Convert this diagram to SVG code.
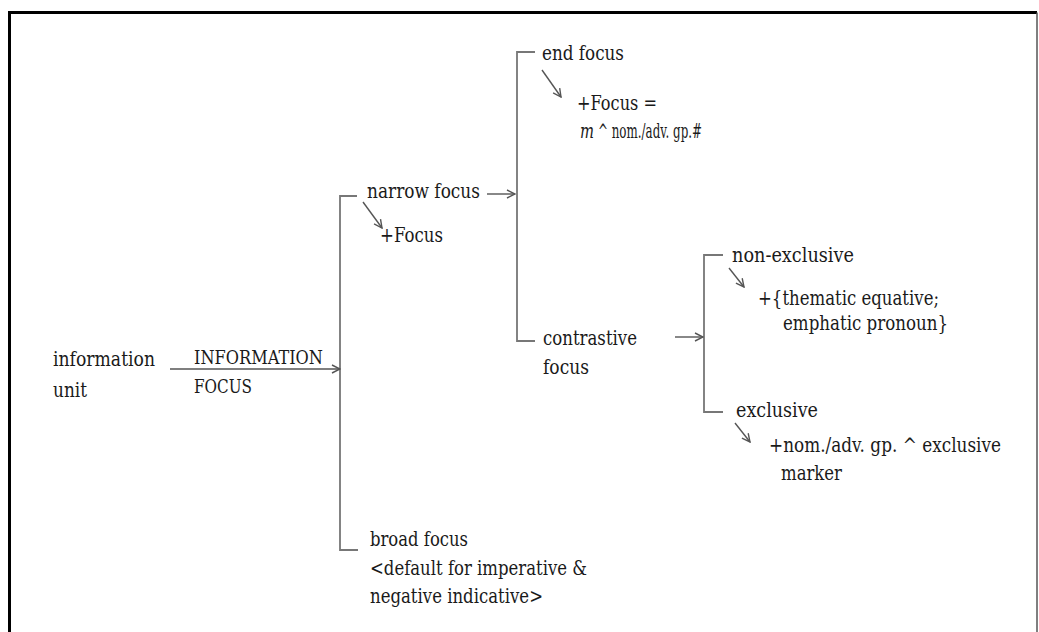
<svg xmlns="http://www.w3.org/2000/svg" width="1039" height="632" viewBox="0 0 1039 632">
  <defs>
    <marker id="open" viewBox="0 0 10 10" refX="9" refY="5" markerWidth="10" markerHeight="10" markerUnits="userSpaceOnUse" orient="auto">
      <path d="M1,1 L9,5 L1,9" fill="none" stroke="#555" stroke-width="1.4"/>
    </marker>
  </defs>
  <style>
    .caps { font-size: 18px; }
    .it { font-style: italic; }
    .line { fill: none; stroke: #777; stroke-width: 1.8; }
    .arr { fill: none; stroke: #555; stroke-width: 1.4; marker-end: url(#open); }
  </style>
  <rect width="1039" height="632" fill="#fff"/>
  <!-- frame -->
  <path d="M9.5,640 V12.5 H1037" fill="none" stroke="#000" stroke-width="3"/>
  <path d="M1037,12.5 V640" fill="none" stroke="#555" stroke-width="1.5"/>

  <g id="connectors">
    <path class="line" d="M357,196 H340 V550 H358"/>
    <path class="line" d="M535,52 H517 V341 H535"/>
    <path class="line" d="M723,255 H704 V412 H723"/>
    <path class="arr" d="M170,369 H340"/>
    <path class="arr" d="M487,194 H515"/>
    <path class="arr" d="M675,337 H703"/>
    <path class="arr" d="M363,202 L382,228"/>
    <path class="arr" d="M542,70 L561,97"/>
    <path class="arr" d="M729,268 L744,287"/>
    <path class="arr" d="M735,423 L750,442"/>
  </g>

  <g font-family="DejaVu Serif, serif" font-size="21" fill="#1a1a1a">
    <g id="information-unit">
      <text x="53" y="366" textLength="102" lengthAdjust="spacingAndGlyphs">information</text>
      <text x="53" y="397" textLength="34" lengthAdjust="spacingAndGlyphs">unit</text>
    </g>
    <g id="system-label">
      <text class="caps" x="194" y="364" textLength="129" lengthAdjust="spacingAndGlyphs">INFORMATION</text>
      <text class="caps" x="194" y="393" textLength="58" lengthAdjust="spacingAndGlyphs">FOCUS</text>
    </g>
    <g id="narrow-focus">
      <text x="367" y="198" textLength="113" lengthAdjust="spacingAndGlyphs">narrow focus</text>
      <text x="380" y="242" textLength="63" lengthAdjust="spacingAndGlyphs">+Focus</text>
    </g>
    <g id="end-focus">
      <text x="542" y="60" textLength="82" lengthAdjust="spacingAndGlyphs">end focus</text>
      <text x="577" y="110" textLength="80" lengthAdjust="spacingAndGlyphs">+Focus =</text>
      <text class="it" x="580" y="138" textLength="14" lengthAdjust="spacingAndGlyphs">m</text>
      <text x="598" y="138" textLength="104" lengthAdjust="spacingAndGlyphs">^ nom./adv. gp.#</text>
    </g>
    <g id="contrastive-focus">
      <text x="543" y="345" textLength="94" lengthAdjust="spacingAndGlyphs">contrastive</text>
      <text x="543" y="374" textLength="46" lengthAdjust="spacingAndGlyphs">focus</text>
    </g>
    <g id="non-exclusive">
      <text x="732" y="262" textLength="122" lengthAdjust="spacingAndGlyphs">non-exclusive</text>
      <text x="758" y="305" textLength="181" lengthAdjust="spacingAndGlyphs">+{thematic equative;</text>
      <text x="783" y="330" textLength="165" lengthAdjust="spacingAndGlyphs">emphatic pronoun}</text>
    </g>
    <g id="exclusive">
      <text x="736" y="417" textLength="82" lengthAdjust="spacingAndGlyphs">exclusive</text>
      <text x="769" y="452" textLength="232" lengthAdjust="spacingAndGlyphs">+nom./adv. gp. ^ exclusive</text>
      <text x="781" y="480" textLength="61" lengthAdjust="spacingAndGlyphs">marker</text>
    </g>
    <g id="broad-focus">
      <text x="370" y="546" textLength="98" lengthAdjust="spacingAndGlyphs">broad focus</text>
      <text x="370" y="575" textLength="217" lengthAdjust="spacingAndGlyphs">&lt;default for imperative &amp;</text>
      <text x="370" y="603" textLength="173" lengthAdjust="spacingAndGlyphs">negative indicative&gt;</text>
    </g>
  </g>
</svg>
